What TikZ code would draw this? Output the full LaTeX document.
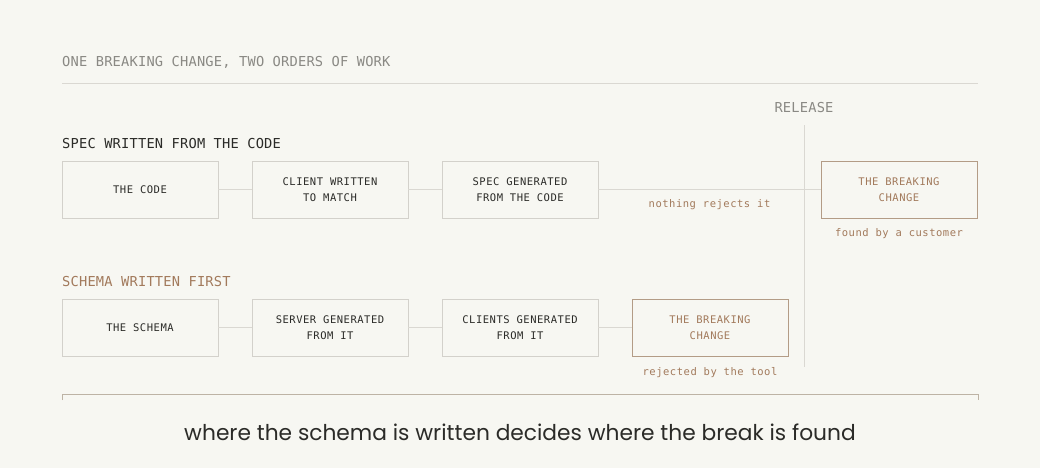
\documentclass[tikz,border=0pt]{standalone}
\usepackage{fontspec}
\setmainfont{Poppins}
\newfontfamily\monohead{DejaVu Sans Mono}[LetterSpace=1.5]
\newfontfamily\monobox{DejaVu Sans Mono}[LetterSpace=5]
\usetikzlibrary{positioning,calc}

\definecolor{bgcol}{HTML}{F7F7F2}
\definecolor{ink}{HTML}{2B2B28}
\definecolor{muted}{HTML}{8A8984}
\definecolor{rulegray}{HTML}{DAD8D2}
\definecolor{boxline}{HTML}{D3D1CB}
\definecolor{brown}{HTML}{A27A5C}
\definecolor{brownline}{HTML}{B39C86}
\definecolor{bracketcol}{HTML}{BDB3A5}

\begin{document}
\begin{tikzpicture}[
    x=1pt, y=-1pt,
    node distance=34pt,
    headfont/.style={font=\fontsize{13.7}{16}\selectfont\monohead},
    box/.style={rectangle, draw=boxline, line width=0.8pt, minimum width=156pt, minimum height=57pt,
        inner sep=0pt, outer sep=0pt, align=center, text=ink, font=\fontsize{10.5}{16}\selectfont\monobox},
    breakbox/.style={box, draw=brownline, text=brown},
    note/.style={anchor=base, inner sep=0pt, text=brown, font=\fontsize{10.5}{16}\selectfont\monobox},
    link/.style={draw=rulegray, line width=0.8pt}
]
    \fill[bgcol] (0,0) rectangle (1040,468);

    % heading
    \node[headfont, text=muted, anchor=base west, inner sep=0pt] (title) at (62,67) {ONE BREAKING CHANGE, TWO ORDERS OF WORK};
    \draw[link] (62,83) -- (978,83);

    % release marker
    \node[headfont, text=muted, anchor=base, inner sep=0pt] (release) at (804,113) {RELEASE};
    \coordinate (releaseEnd) at (804,367);
    \draw[link] ($(release.south)+(0,12)$) -- (releaseEnd);

    % spec written from the code
    \node[headfont, text=ink, anchor=base west, inner sep=0pt] (specHead) at (62,148) {SPEC WRITTEN FROM THE CODE};
    \node[box, anchor=north west] (code) at (62,161) {THE CODE};
    \node[box, right=of code] (client) {CLIENT WRITTEN\\TO MATCH};
    \node[box, right=of client] (spec) {SPEC GENERATED\\FROM THE CODE};
    \node[breakbox, right=223pt of spec] (breakA) {THE BREAKING\\CHANGE};

    \draw[link] (code) -- (client);
    \draw[link] (client) -- (spec);
    \draw[link] (spec) -- (breakA);
    \node[note] (noReject) at ($(spec.east)!0.5!(breakA.west)+(0,18)$) {nothing rejects it};
    \node[note] (foundBy) at ($(breakA.south)+(0,18)$) {found by a customer};

    % schema written first
    \node[headfont, text=brown, anchor=base west, inner sep=0pt] (schemaHead) at (62,286) {SCHEMA WRITTEN FIRST};
    \node[box, below=81pt of code] (schema) {THE SCHEMA};
    \node[box, right=of schema] (server) {SERVER GENERATED\\FROM IT};
    \node[box, right=of server] (clients) {CLIENTS GENERATED\\FROM IT};
    \node[breakbox, right=of clients] (breakB) {THE BREAKING\\CHANGE};

    \draw[link] (schema) -- (server);
    \draw[link] (server) -- (clients);
    \draw[link] (clients) -- (breakB);
    \node[note] (rejected) at ($(breakB.south)+(0,19)$) {rejected by the tool};

    % bracket and caption
    \draw[draw=bracketcol, line width=0.9pt] (62,400) -- (62,394) -- (978,394) -- (978,400);
    \node[anchor=base, inner sep=0pt, text=ink, font=\fontsize{21.75}{24}\selectfont] (caption) at (520,440)
        {where the schema is written decides where the break is found};
\end{tikzpicture}
\end{document}
